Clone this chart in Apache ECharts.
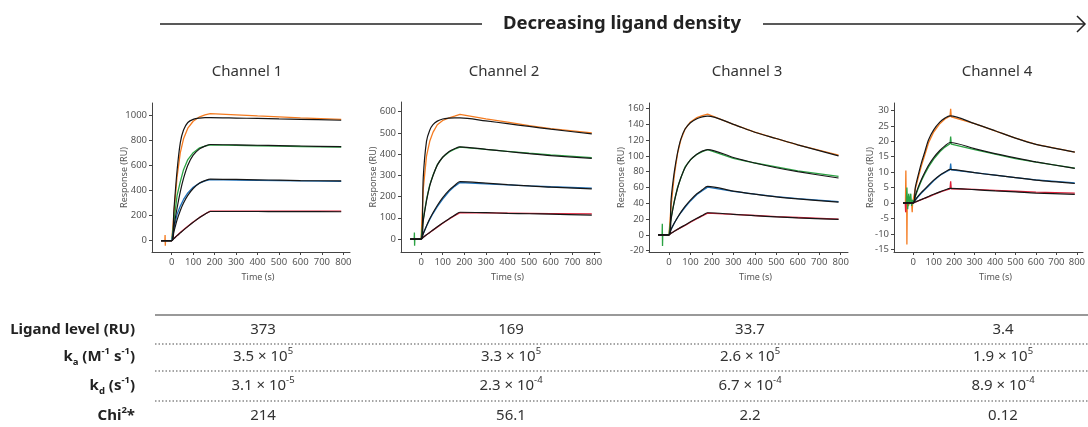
<!DOCTYPE html>
<html>
<head>
<meta charset="utf-8">
<title>Decreasing ligand density</title>
<script src="https://cdn.jsdelivr.net/npm/echarts@6/dist/echarts.min.js"></script>
<style>
  html, body { margin: 0; padding: 0; background: #fff; }
  #chart { width: 1088px; height: 427px; }
</style>
</head>
<body>
<div id="chart"></div>
<script>
// time points (s) for the measured responses and for the fitted curves
const respTimes = [0, 10, 25, 40, 55, 75, 100, 130, 155, 180, 300, 400, 500, 600, 790];
const fitTimes = [-50, 0, 10, 25, 40, 55, 75, 100, 130, 155, 180, 300, 400, 500, 600, 790];
const xTicks = [0, 100, 200, 300, 400, 500, 600, 700, 800];

// order in every channel: orange, green, blue, red
const ch1Resp = [
  [0, 215, 510, 700, 810, 895, 950, 985, 1000, 1010, 1000, 992, 985, 977, 965],
  [0, 150, 360, 470, 565, 645, 700, 738, 752, 762, 758, 755, 752, 749, 745],
  [0, 95, 210, 275, 328, 380, 425, 458, 475, 485, 482, 480, 478, 476, 472],
  [0, 18, 42, 65, 87, 115, 148, 185, 212, 235, 235, 235, 235, 235, 235]
];
const ch1Fit = [
  [0, 0, 240, 560, 780, 880, 940, 965, 975, 978, 978, 975, 972, 968, 965, 958],
  [0, 0, 110, 260, 390, 495, 600, 680, 730, 752, 765, 762, 759, 756, 753, 748],
  [0, 0, 70, 165, 240, 300, 360, 415, 458, 478, 490, 487, 484, 481, 478, 475],
  [0, 0, 16, 40, 62, 84, 112, 146, 184, 210, 232, 232, 232, 231, 231, 230]
];
const ch1Pre = [[[-50, 0], [-32, 0], [-31, 45], [-30, -40], [-29, 0]], [[-50, 0]], [[-50, 0]], [[-50, 0]]];
const ch1Peak = [[], [], [], []];
const ch1YTicks = [0, 200, 400, 600, 800, 1000];

const ch2Resp = [
  [0, 235, 390, 460, 502, 538, 558, 570, 578, 587, 566, 550, 534, 520, 500],
  [0, 95, 185, 255, 300, 350, 385, 410, 423, 433, 422, 413, 404, 396, 383],
  [0, 25, 60, 92, 120, 152, 188, 225, 248, 266, 260, 255, 250, 246, 240],
  [0, 8, 20, 31, 42, 56, 74, 94, 110, 124, 123, 122, 121, 120, 118]
];
const ch2Fit = [
  [0, 0, 290, 460, 512, 538, 555, 565, 569, 570, 570, 556, 543, 530, 517, 495],
  [0, 0, 85, 180, 250, 298, 348, 385, 412, 425, 434, 422, 412, 402, 393, 380],
  [0, 0, 25, 62, 95, 124, 158, 195, 230, 252, 270, 263, 256, 250, 244, 236],
  [0, 0, 8, 20, 31, 43, 58, 76, 96, 112, 126, 124, 121, 119, 117, 113]
];
const ch2Pre = [[[-50, 0]], [[-50, 0], [-32, 0], [-31, 31], [-30, -31], [-29, 0]], [[-50, 0]], [[-50, 0]]];
const ch2Peak = [[], [], [], []];
const ch2YTicks = [0, 100, 200, 300, 400, 500, 600];

const ch3Resp = [
  [0, 37, 76, 103, 120, 134, 143, 148.5, 151, 153, 140, 130, 122, 114, 101],
  [0, 22, 43, 60, 72, 86, 95, 102, 105.5, 108, 97, 91, 86, 81, 74],
  [0, 7, 15, 22, 28, 35, 43, 51, 56, 60.5, 55, 51.5, 48.5, 46, 42],
  [0, 2, 4.5, 7, 9.2, 12, 16, 20.5, 24, 27.5, 26, 24.5, 23, 22, 20]
];
const ch3Fit = [
  [0, 0, 45, 80, 104, 121, 134, 142, 147, 149.5, 150.5, 140, 130, 122, 114, 100],
  [0, 0, 20, 42, 59, 72, 85, 95, 102, 106, 108, 98, 91, 85, 80, 72],
  [0, 0, 7, 15, 22, 28.5, 36, 44, 52, 57, 61.5, 55.5, 51.5, 48, 45.5, 41.5],
  [0, 0, 2, 4.5, 7, 9.5, 12.5, 16.5, 21, 24.5, 28, 26, 24.3, 22.8, 21.5, 19.5]
];
const ch3Pre = [[[-50, 0]], [[-50, 0], [-32, 0], [-31, 14], [-30, -14], [-29, 0]], [[-50, 0]], [[-50, 0]]];
const ch3Peak = [[], [], [], []];
const ch3YTicks = [-20, 0, 20, 40, 60, 80, 100, 120, 140, 160];

const ch4Resp = [
  [0, 4.5, 8.3, 12, 15.2, 19.5, 23, 25.7, 27.2, 28.1, 25.7, 23.4, 21, 19, 16.5],
  [0, 2, 4.8, 7.2, 9.2, 11.7, 14.2, 16.6, 18.1, 19.2, 17.3, 15.8, 14.4, 13.2, 11.3],
  [0, 0.9, 2.1, 3.2, 4.2, 5.5, 7.2, 8.9, 9.9, 10.8, 9.8, 9, 8.2, 7.5, 6.5],
  [0, 0.3, 0.7, 1.1, 1.5, 2, 2.7, 3.5, 4.1, 4.6, 4.4, 4.1, 3.8, 3.5, 3.2]
];
const ch4Fit = [
  [0, 0, 5, 9.2, 13, 16.2, 20.5, 23.7, 26.2, 27.5, 28.2, 25.7, 23.4, 21, 19, 16.5],
  [0, 0, 2.3, 5.2, 7.6, 9.7, 12.2, 14.7, 17, 18.5, 19.6, 17.6, 16, 14.6, 13.3, 11.2],
  [0, 0, 1, 2.3, 3.4, 4.4, 5.8, 7.4, 9, 10, 10.9, 9.8, 9, 8.2, 7.4, 6.3],
  [0, 0, 0.3, 0.7, 1.1, 1.5, 2.1, 2.8, 3.6, 4.2, 4.7, 4.3, 3.9, 3.6, 3.2, 2.8]
];
const ch4Pre = [
  [[-50, 0], [-38, 0], [-36, 10.5], [-34, -3], [-32, 2], [-31, -13.5], [-29, 1], [-24, -1], [-18, 0], [-8, 0], [-5, -3], [-3, 0]],
  [[-50, 0], [-34, 0], [-31, 5], [-27, -2], [-22, 3], [-17, 0], [-12, 3], [-8, -1], [-4, 1]],
  [[-50, 0]],
  [[-50, 0], [-39, 0], [-37, -3], [-35, 0]]
];
const ch4Peak = [[[183, 30.5], [186, 27.9]], [[183, 21.5], [186, 19.1]], [[183, 12.8], [186, 10.7]], [[183, 7], [186, 4.6]]];
const ch4YTicks = [-15, -10, -5, 0, 5, 10, 15, 20, 25, 30];

const channelNames = ['Channel 1', 'Channel 2', 'Channel 3', 'Channel 4'];
const tableLabels = ['Ligand level (RU)', 'k{sub|a} (M{sup|-1} s{sup|-1})', 'k{sub|d} (s{sup|-1})', 'Chi{sup|2}*'];
const ligandLevel = ['373', '169', '33.7', '3.4'];
const kaValues = ['3.5 × 10{sup|5}', '3.3 × 10{sup|5}', '2.6 × 10{sup|5}', '1.9 × 10{sup|5}'];
const kdValues = ['3.1 × 10{sup|-5}', '2.3 × 10{sup|-4}', '6.7 × 10{sup|-4}', '8.9 × 10{sup|-4}'];
const chi2Values = ['214', '56.1', '2.2', '0.12'];

const channels = [
  {resp: ch1Resp, fit: ch1Fit, pre: ch1Pre, peak: ch1Peak, yTicks: ch1YTicks},
  {resp: ch2Resp, fit: ch2Fit, pre: ch2Pre, peak: ch2Peak, yTicks: ch2YTicks},
  {resp: ch3Resp, fit: ch3Fit, pre: ch3Pre, peak: ch3Peak, yTicks: ch3YTicks},
  {resp: ch4Resp, fit: ch4Fit, pre: ch4Pre, peak: ch4Peak, yTicks: ch4YTicks}
];

// layout of the four small plots
const panels = [
  {left: 152, top: 103, width: 198, height: 149, x: [-92, 831], y: [-90, 1095], nameGap: 23, cx: 247},
  {left: 401, top: 102, width: 199, height: 150, x: [-93, 828], y: [-61, 645], nameGap: 23, cx: 504},
  {left: 649, top: 103, width: 199, height: 149, x: [-93, 834], y: [-21.7, 167], nameGap: 23, cx: 747},
  {left: 894, top: 103, width: 197, height: 149, x: [-94, 830], y: [-15.9, 32.4], nameGap: 19, cx: 997}
];
const colColumns = [263, 511, 750, 1003];

const colors = ['#f47b20', '#2ba243', '#1e70b8', '#dd2039'];
const fitColor = '#161616';
const font = 'Noto Sans';

const myChart = echarts.init(document.getElementById('chart'));

function pairs(times, vals) {
  return times.map((t, i) => [t, vals[i]]);
}

const grid = [], xAxis = [], yAxis = [], series = [];
panels.forEach((p, i) => {
  const ch = channels[i];
  grid.push({left: p.left, top: p.top, width: p.width, height: p.height, containLabel: false});
  xAxis.push({
    type: 'value', gridIndex: i, min: p.x[0], max: p.x[1],
    name: 'Time (s)', nameLocation: 'middle', nameGap: 21, nameMoveOverlap: false,
    nameTextStyle: {fontFamily: font, fontSize: 9, color: '#555', padding: [0, 0, 0, 14]},
    axisLine: {show: true, onZero: false, lineStyle: {color: '#444', width: 1}},
    axisTick: {show: true, length: 3, customValues: xTicks, lineStyle: {color: '#444'}},
    axisLabel: {customValues: xTicks, margin: 5, fontFamily: font, fontSize: 9.5, color: '#555',
      formatter: v => String(v)},
    splitLine: {show: false}
  });
  yAxis.push({
    type: 'value', gridIndex: i, min: p.y[0], max: p.y[1],
    name: 'Response (RU)', nameLocation: 'middle', nameGap: p.nameGap, nameMoveOverlap: false,
    nameTextStyle: {fontFamily: font, fontSize: 9, color: '#555'},
    axisLine: {show: true, onZero: false, lineStyle: {color: '#444', width: 1}},
    axisTick: {show: true, length: 3, customValues: ch.yTicks, lineStyle: {color: '#444'}},
    axisLabel: {customValues: ch.yTicks, margin: 5, fontFamily: font, fontSize: 9.5, color: '#555',
      formatter: v => String(v)},
    splitLine: {show: false}
  });
  ch.resp.forEach((vals, k) => {
    const pts = ch.pre[k].concat(pairs(respTimes, vals));
    const at = pts.findIndex(d => d[0] === 180) + 1;
    pts.splice(at, 0, ...ch.peak[k]);
    series.push({
      type: 'line', xAxisIndex: i, yAxisIndex: i, data: pts,
      showSymbol: false, smooth: false,
      lineStyle: {color: colors[k], width: 1.3}, z: 2
    });
  });
  ch.fit.forEach(vals => {
    series.push({
      type: 'line', xAxisIndex: i, yAxisIndex: i, data: pairs(fitTimes, vals),
      showSymbol: false, smooth: 0.3,
      lineStyle: {color: fitColor, width: 1.2}, z: 3
    });
  });
});

const sup = {fontSize: 9.5, lineHeight: 9, verticalAlign: 'top'};
const graphic = [];
// header with arrow
graphic.push({type: 'line', shape: {x1: 160, y1: 24, x2: 482, y2: 24}, style: {stroke: '#222', lineWidth: 1.5}});
graphic.push({type: 'line', shape: {x1: 763, y1: 24, x2: 1085, y2: 24}, style: {stroke: '#222', lineWidth: 1.5}});
graphic.push({type: 'polyline', shape: {points: [[1077, 16], [1085, 24], [1077, 32]]}, style: {stroke: '#222', fill: null, lineWidth: 1.5}});
graphic.push({type: 'text', x: 622, y: 24, style: {
  text: 'Decreasing ligand density', fill: '#222', fontFamily: font, fontSize: 18.5, fontWeight: 'bold',
  align: 'center', verticalAlign: 'middle'
}});
channelNames.forEach((name, i) => {
  graphic.push({type: 'text', x: panels[i].cx, y: 72, style: {
    text: name, fill: '#333', fontFamily: font, fontSize: 15, align: 'center', verticalAlign: 'middle'
  }});
});

// table
const rowY = [330, 357, 386, 416];
graphic.push({type: 'line', shape: {x1: 155, y1: 315, x2: 1088, y2: 315}, style: {stroke: '#777', lineWidth: 1.5}});
[344, 371, 401].forEach(y => {
  graphic.push({type: 'line', shape: {x1: 155, y1: y, x2: 1088, y2: y}, style: {stroke: '#888', lineWidth: 1.5, lineDash: [1.5, 2]}});
});
tableLabels.forEach((label, r) => {
  graphic.push({type: 'text', x: 135, y: rowY[r], style: {
    text: label, fill: '#222', fontFamily: font, fontSize: 15, fontWeight: 'bold', lineHeight: 21,
    align: 'right', verticalAlign: 'middle',
    rich: {
      sup: Object.assign({fontFamily: font, fontWeight: 'bold', fill: '#222'}, sup),
      sub: {fontFamily: font, fontWeight: 'bold', fill: '#222', fontSize: 9.5, lineHeight: 9, verticalAlign: 'bottom'}
    }
  }});
});
[ligandLevel, kaValues, kdValues, chi2Values].forEach((row, r) => {
  row.forEach((val, c) => {
    graphic.push({type: 'text', x: colColumns[c], y: rowY[r], style: {
      text: val, fill: '#333', fontFamily: font, fontSize: 15, lineHeight: 21,
      align: 'center', verticalAlign: 'middle',
      rich: {sup: Object.assign({fontFamily: font, fill: '#333'}, sup)}
    }});
  });
});

const option = {
  animation: false,
  backgroundColor: '#fff',
  grid: grid,
  xAxis: xAxis,
  yAxis: yAxis,
  series: series,
  graphic: graphic
};
myChart.setOption(option);
</script>
</body>
</html>
